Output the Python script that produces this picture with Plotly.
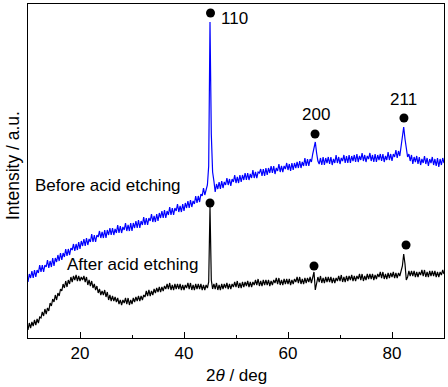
import plotly.graph_objects as go

# XRD scan grid (2theta, deg)
scan_start = 10.0
scan_step = 0.25

# Intensity (a.u.), one row per degree (4 points per degree)
before_intensity = [
    56, 64, 60, 67,
    60, 68, 61, 68,
    65, 73, 66, 73,
    66, 73, 71, 78,
    70, 77, 71, 80,
    72, 80, 76, 83,
    77, 85, 78, 85,
    81, 89, 82, 89,
    83, 90, 88, 94,
    87, 94, 88, 96,
    89, 97, 92, 99,
    92, 100, 93, 99,
    96, 104, 96, 103,
    96, 103, 101, 107,
    100, 106, 100, 108,
    100, 108, 103, 110,
    103, 110, 103, 109,
    105, 113, 105, 112,
    105, 111, 108, 115,
    107, 113, 107, 115,
    107, 115, 110, 117,
    110, 118, 110, 117,
    113, 121, 113, 120,
    113, 120, 117, 124,
    116, 122, 116, 124,
    117, 125, 120, 127,
    120, 128, 120, 127,
    123, 131, 123, 130,
    123, 130, 127, 134,
    126, 132, 126, 134,
    127, 135, 130, 137,
    130, 138, 131, 137,
    134, 142, 135, 142,
    136, 144, 142, 150,
    143, 150, 153, 172,
    316, 204, 166, 157,
    146, 154, 149, 156,
    149, 157, 150, 156,
    153, 160, 153, 159,
    152, 159, 156, 163,
    155, 161, 155, 163,
    156, 163, 158, 165,
    158, 165, 158, 164,
    160, 168, 160, 166,
    160, 166, 165, 169,
    162, 169, 162, 170,
    163, 170, 165, 172,
    165, 172, 164, 170,
    167, 174, 166, 172,
    166, 172, 169, 175,
    168, 174, 167, 175,
    168, 175, 170, 176,
    170, 177, 170, 176,
    172, 180, 172, 179,
    172, 179, 176, 184,
    189, 196, 185, 177,
    174, 180, 173, 181,
    173, 180, 175, 181,
    174, 181, 173, 179,
    175, 183, 175, 181,
    174, 180, 177, 183,
    175, 182, 175, 183,
    175, 182, 177, 183,
    176, 184, 176, 182,
    178, 185, 177, 183,
    176, 182, 179, 185,
    177, 183, 176, 184,
    176, 183, 178, 184,
    177, 184, 176, 182,
    178, 186, 178, 184,
    177, 184, 181, 188,
    180, 187, 182, 193,
    199, 211, 199, 190,
    181, 184, 177, 183,
    174, 181, 176, 182,
    174, 181, 173, 179,
    175, 182, 174, 180,
    172, 179, 175, 181,
    173, 179, 172, 180,
    171, 179, 173, 180,
    175,
]

after_intensity = [
    8, 15, 10, 16,
    12, 18, 13, 19,
    15, 21, 20, 26,
    22, 29, 24, 30,
    27, 35, 32, 39,
    36, 43, 38, 45,
    42, 49, 47, 54,
    50, 57, 51, 58,
    54, 61, 56, 62,
    58, 63, 57, 62,
    57, 61, 58, 62,
    56, 61, 53, 58,
    52, 57, 50, 54,
    48, 52, 45, 49,
    43, 47, 43, 48,
    41, 46, 38, 43,
    37, 42, 37, 41,
    36, 40, 34, 38,
    33, 38, 35, 40,
    34, 40, 33, 38,
    34, 40, 36, 41,
    37, 42, 37, 42,
    38, 43, 41, 47,
    42, 48, 42, 47,
    43, 49, 45, 50,
    46, 51, 46, 51,
    47, 52, 49, 54,
    49, 55, 48, 53,
    48, 54, 49, 54,
    49, 54, 48, 53,
    48, 53, 50, 55,
    49, 55, 48, 53,
    48, 54, 49, 54,
    49, 54, 48, 53,
    48, 53, 50, 56,
    131, 58, 49, 54,
    49, 55, 48, 53,
    48, 54, 49, 54,
    50, 55, 49, 54,
    49, 54, 51, 56,
    51, 57, 50, 55,
    50, 56, 51, 56,
    52, 57, 51, 56,
    51, 56, 53, 58,
    53, 59, 52, 57,
    52, 58, 53, 58,
    53, 58, 52, 57,
    53, 58, 55, 60,
    54, 60, 53, 58,
    53, 59, 54, 59,
    54, 59, 53, 58,
    54, 59, 56, 61,
    55, 61, 54, 59,
    54, 60, 55, 60,
    56, 61, 55, 61,
    66, 48, 57, 61,
    56, 62, 55, 60,
    55, 61, 56, 61,
    56, 61, 55, 60,
    55, 60, 57, 62,
    57, 63, 56, 61,
    56, 62, 57, 62,
    58, 63, 57, 62,
    57, 62, 59, 64,
    58, 64, 57, 62,
    58, 64, 59, 64,
    59, 64, 58, 63,
    59, 64, 61, 66,
    60, 66, 59, 64,
    59, 65, 60, 65,
    61, 66, 60, 65,
    60, 65, 62, 67,
    72, 84, 74, 58,
    61, 67, 62, 67,
    62, 67, 61, 66,
    61, 66, 63, 68,
    62, 68, 61, 66,
    61, 67, 62, 67,
    62, 67, 61, 66,
    61, 66, 63, 68,
    64,
]

two_theta = [scan_start + i * scan_step for i in range(len(before_intensity))]

# Peak markers and labels
peak_labels = ["110", "200", "211"]
before_peak_x = [45.1, 65.2, 82.3]
before_peak_y = [325, 204, 220]
after_peak_x = [45.0, 65.0, 82.7]
after_peak_y = [135, 72, 93]
label_x = [49.8, 65.4, 82.3]
label_y = [320, 224, 239]

series_names = ["Before acid etching", "After acid etching"]
series_label_x = [25.4, 30.0]
series_label_y = [153, 74]

FONT = "Liberation Sans, Arial, Helvetica, sans-serif"

fig = go.Figure()
fig.add_trace(go.Scatter(x=two_theta, y=before_intensity, mode="lines",
                         line=dict(color="#0000FF", width=1.2), name=series_names[0]))
fig.add_trace(go.Scatter(x=two_theta, y=after_intensity, mode="lines",
                         line=dict(color="#000000", width=1.2), name=series_names[1]))
fig.add_trace(go.Scatter(x=before_peak_x + after_peak_x, y=before_peak_y + after_peak_y,
                         mode="markers", marker=dict(color="black", size=9, symbol="circle")))

annotations = []
for t, x, y in zip(peak_labels, label_x, label_y):
    annotations.append(dict(x=x, y=y, xref="x", yref="y", text=t, showarrow=False,
                            xanchor="center", yanchor="middle",
                            font=dict(size=17, color="black", family=FONT)))
for t, x, y in zip(series_names, series_label_x, series_label_y):
    annotations.append(dict(x=x, y=y, xref="x", yref="y", text=t, showarrow=False,
                            xanchor="center", yanchor="middle",
                            font=dict(size=17, color="black", family=FONT)))
annotations.append(dict(x=-0.036, y=0.515, xref="paper", yref="paper", text="Intensity / a.u.",
                        textangle=-90, showarrow=False, xanchor="center", yanchor="middle",
                        font=dict(size=17.5, color="black", family=FONT)))
annotations.append(dict(x=0.502, y=-0.111, xref="paper", yref="paper",
                        text="2<i>θ</i> / deg", showarrow=False, xanchor="center", yanchor="middle",
                        font=dict(size=17, color="black", family=FONT)))

fig.update_layout(
    width=448, height=387,
    margin=dict(l=28, r=4, t=4, b=49),
    plot_bgcolor="white", paper_bgcolor="white",
    showlegend=False,
    annotations=annotations,
    xaxis=dict(range=[10, 90], tickmode="linear", tick0=0, dtick=20,
               ticks="inside", ticklen=6, tickcolor="black", tickwidth=1,
               showline=True, mirror=True, linecolor="black", linewidth=1,
               showgrid=False, zeroline=False,
               tickfont=dict(size=17, color="black", family=FONT),
               minor=dict(ticks="inside", ticklen=3, tickcolor="black",
                          tickmode="linear", tick0=0, dtick=10, showgrid=False)),
    yaxis=dict(range=[0, 334], showticklabels=False, ticks="",
               showline=True, mirror=True, linecolor="black", linewidth=1,
               showgrid=False, zeroline=False),
)

fig.write_html("out.html", config={"displayModeBar": False},
               post_script="document.body.style.margin='0px';")
